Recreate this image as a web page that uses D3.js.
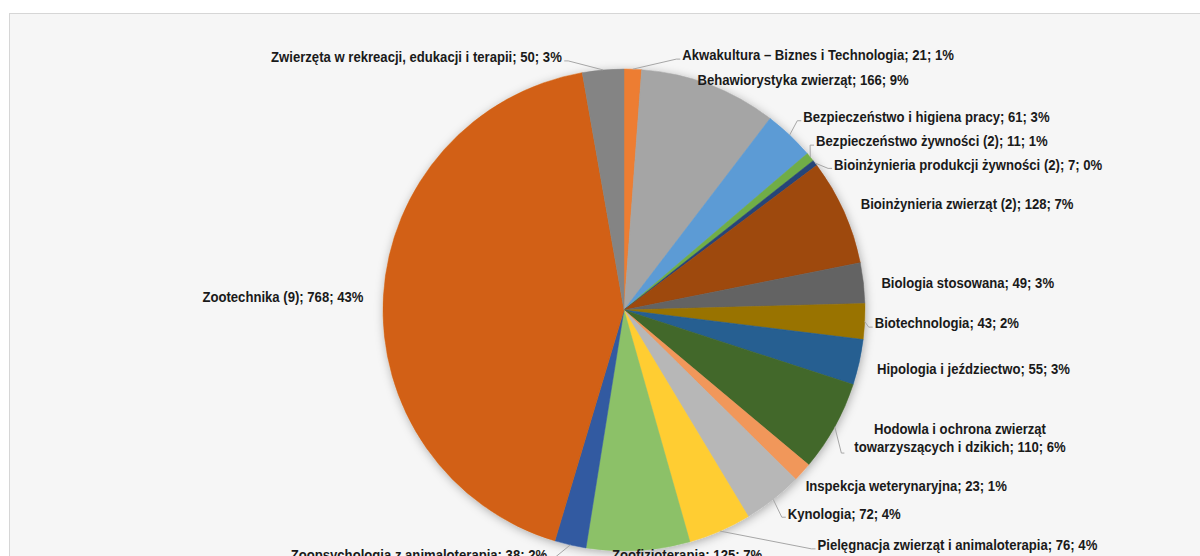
<!DOCTYPE html>
<html>
<head>
<meta charset="utf-8">
<script src="https://cdn.jsdelivr.net/npm/d3@7"></script>
<style>
  body { margin: 0; background: #ffffff; }
  svg { display: block; }
  .lbl { font-family: "Liberation Sans", Arial, sans-serif; font-weight: bold; font-size: 15px; fill: #1a1a1a; }
</style>
</head>
<body>
<svg id="chart" width="1200" height="556"></svg>
<script>
// Students per field of study (count), drawn clockwise from 12 o'clock
const categories = [
  "Akwakultura – Biznes i Technologia",
  "Behawiorystyka zwierząt",
  "Bezpieczeństwo i higiena pracy",
  "Bezpieczeństwo żywności (2)",
  "Bioinżynieria produkcji żywności (2)",
  "Bioinżynieria zwierząt (2)",
  "Biologia stosowana",
  "Biotechnologia",
  "Hipologia i jeździectwo",
  "Hodowla i ochrona zwierząt\ntowarzyszących i dzikich",
  "Inspekcja weterynaryjna",
  "Kynologia",
  "Pielęgnacja zwierząt i animaloterapia",
  "Zoofizjoterapia",
  "Zoopsychologia z animaloterapią",
  "Zootechnika (9)",
  "Zwierzęta w rekreacji, edukacji i terapii"
];
const values = [21, 166, 61, 11, 7, 128, 49, 43, 55, 110, 23, 72, 76, 125, 38, 768, 50];

const sliceColors = [
  "#ED7D31", "#A5A5A5", "#5B9BD5", "#70AD47", "#264478", "#9E480E",
  "#636363", "#997300", "#255E91", "#43682B", "#F1975A", "#B7B7B7",
  "#FFCD33", "#8CC168", "#335AA1", "#D26012", "#848484"
];

// Label nudges (px) from the default spot just outside each slice
const labelShift = [
  [49, 0], [-17, 8], [4, -8], [-5, -7], [8, 10], [4, -2], [4, 1], [-4, 1],
  [4, 3], [113, 4], [-7, 4], [6, 3], [92, 1], [-27, -10], [-20, -4], [-6, 2], [-40, 1]
];
const leaderShown = [
  true, false, true, true, true, false, false, true, false, true,
  false, true, true, false, true, false, true
];

const svg = d3.select("#chart");
const W = 1200, H = 556;
const cx = 624, cy = 310, radius = 241;
const squeeze = 0.875; // condensed label lettering

// chart area frame
svg.append("rect")
  .attr("x", 9.5).attr("y", 13.5)
  .attr("width", W).attr("height", H)
  .attr("fill", "#f6f6f6")
  .attr("stroke", "#d6d6d6").attr("stroke-width", 1);

const defs = svg.append("defs");
const shadow = defs.append("filter").attr("id", "pieShadow")
  .attr("x", "-20%").attr("y", "-20%").attr("width", "140%").attr("height", "140%");
shadow.append("feDropShadow")
  .attr("dx", 1).attr("dy", 2).attr("stdDeviation", 5)
  .attr("flood-color", "#000").attr("flood-opacity", 0.3);

const total = d3.sum(values);
const data = categories.map((c, i) => ({ name: c, value: values[i], color: sliceColors[i], i }));

const pie = d3.pie().value(d => d.value).sort(null).startAngle(0).endAngle(2 * Math.PI);
const arcs = pie(data);
const arc = d3.arc().innerRadius(0).outerRadius(radius);

const g = svg.append("g").attr("transform", `translate(${cx},${cy})`);

g.append("g").attr("filter", "url(#pieShadow)")
  .selectAll("path").data(arcs).join("path")
  .attr("d", arc)
  .attr("fill", d => d.data.color)
  .attr("stroke", d => d.data.color)
  .attr("stroke-width", 0.5);

const labelR = radius + 14;
const leaders = g.append("g");
const labels = g.append("g");

arcs.forEach(a => {
  const i = a.data.i;
  const mid = (a.startAngle + a.endAngle) / 2;
  const sx = Math.sin(mid), sy = -Math.cos(mid);
  const lines = a.data.name.split("\n");
  const pct = Math.round(a.data.value / total * 100);
  lines[lines.length - 1] += `; ${a.data.value}; ${pct}%`;
  const x = labelR * sx + labelShift[i][0];
  const y = labelR * sy + labelShift[i][1];
  const multi = lines.length > 1;
  const anchor = multi ? "middle" : (sx >= 0 ? "start" : "end");
  const lh = 18;
  const holder = labels.append("g")
    .attr("transform", `translate(${x},${y}) scale(${squeeze},1)`);
  const t = holder.append("text").attr("class", "lbl")
    .attr("text-anchor", anchor);
  lines.forEach((ln, k) => {
    t.append("tspan")
      .attr("x", 0)
      .attr("y", (k - (lines.length - 1) / 2) * lh)
      .attr("dy", "0.35em")
      .text(ln);
  });

  if (leaderShown[i]) {
    const ex = radius * sx, ey = radius * sy;
    const toOuter = b => ({ x: x + b.x * squeeze, y: y + b.y, w: b.width * squeeze, h: b.height });
    let px, py, qx;
    if (multi) {
      const last = toOuter(t.selectAll("tspan").nodes()[lines.length - 1].getBBox());
      px = last.x - 13; qx = last.x - 10; py = last.y + last.h - 2;
    } else {
      const b = toOuter(t.node().getBBox());
      if (anchor === "start") { px = b.x - 6; qx = b.x - 2; }
      else { px = b.x + b.w + 6; qx = b.x + b.w + 2; }
      py = b.y + b.h * 0.5 + 4;
    }
    leaders.append("path")
      .attr("d", `M${ex},${ey}L${px},${py}L${qx},${py}`)
      .attr("fill", "none")
      .attr("stroke", "#a6a6a6")
      .attr("stroke-width", 1);
  }
});
</script>
</body>
</html>
